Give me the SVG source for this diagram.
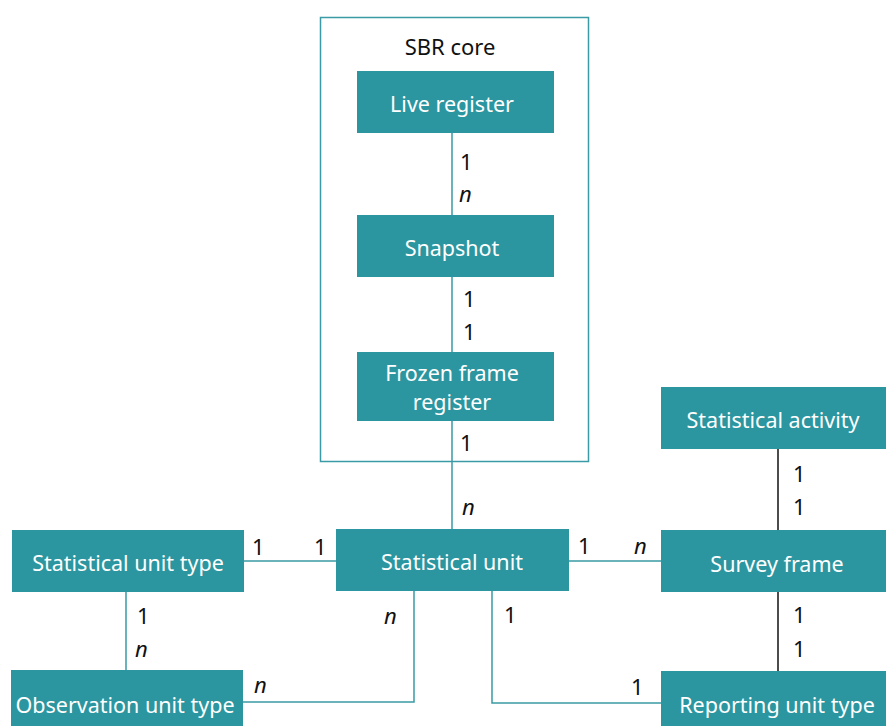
<svg xmlns="http://www.w3.org/2000/svg" width="886" height="726" viewBox="0 0 886 726">
<style>
.box{fill:#2b96a0;}
.lbl{font-family:"Noto Sans","DejaVu Sans",sans-serif;font-size:21.5px;fill:#ffffff;text-anchor:middle;}
.card{font-family:"Noto Sans","DejaVu Sans",sans-serif;font-size:22px;fill:#111111;}
.it{font-style:italic;}
.ln{stroke:#3a9aa5;stroke-width:1.5;fill:none;}
.bk{stroke:#111111;stroke-width:1.5;fill:none;}
</style>
<rect width="886" height="726" fill="#ffffff"/>
<g id="sbr-core">
<rect x="320.5" y="17.5" width="268" height="444" fill="none" stroke="#3a9aa5" stroke-width="1.5"/>
<text x="450" y="55" class="card" font-size="21" text-anchor="middle">SBR core</text>
</g>
<g id="connectors">
<line class="ln" x1="452" y1="133" x2="452" y2="215"/>
<line class="ln" x1="452" y1="277" x2="452" y2="352"/>
<line class="ln" x1="452" y1="421" x2="452" y2="529"/>
<line class="ln" x1="244" y1="561" x2="336" y2="561"/>
<line class="ln" x1="569" y1="561" x2="661" y2="561"/>
<line class="ln" x1="126" y1="592" x2="126" y2="670"/>
<polyline class="ln" points="414,591 414,702 243,702"/>
<polyline class="ln" points="492,591 492,703 661,703"/>
<line class="bk" x1="778" y1="449" x2="778" y2="530"/>
<line class="bk" x1="778" y1="592" x2="778" y2="671"/>
<text class="card" x="460" y="170">1</text>
<text class="card it" x="459" y="202">n</text>
<text class="card" x="463" y="307">1</text>
<text class="card" x="463" y="340">1</text>
<text class="card" x="460" y="451">1</text>
<text class="card it" x="462" y="515">n</text>
<text class="card" x="252" y="555">1</text>
<text class="card" x="314" y="555">1</text>
<text class="card" x="578" y="554">1</text>
<text class="card it" x="634" y="554">n</text>
<text class="card" x="137" y="624">1</text>
<text class="card it" x="135" y="657">n</text>
<text class="card it" x="384" y="624">n</text>
<text class="card it" x="254" y="693">n</text>
<text class="card" x="504" y="623">1</text>
<text class="card" x="631" y="695">1</text>
<text class="card" x="793" y="482">1</text>
<text class="card" x="793" y="515">1</text>
<text class="card" x="793" y="623">1</text>
<text class="card" x="793" y="657">1</text>
</g>
<g id="live-register">
<rect class="box" x="357" y="71" width="197" height="62"/>
<text class="lbl" x="452" y="112">Live register</text>
</g>
<g id="snapshot">
<rect class="box" x="357" y="215" width="197" height="62"/>
<text class="lbl" x="452" y="256">Snapshot</text>
</g>
<g id="frozen-frame-register">
<rect class="box" x="357" y="352" width="197" height="69"/>
<text class="lbl" x="452" y="381" font-size="20.5">Frozen frame</text>
<text class="lbl" x="452" y="410" font-size="20.5">register</text>
</g>
<g id="statistical-unit-type">
<rect class="box" x="12" y="530" width="232" height="62"/>
<text class="lbl" x="128" y="571">Statistical unit type</text>
</g>
<g id="statistical-unit">
<rect class="box" x="336" y="529" width="233" height="62"/>
<text class="lbl" x="452" y="570">Statistical unit</text>
</g>
<g id="observation-unit-type">
<rect class="box" x="11" y="670" width="232" height="56"/>
<text class="lbl" x="125" y="713">Observation unit type</text>
</g>
<g id="statistical-activity">
<rect class="box" x="661" y="387" width="225" height="62"/>
<text class="lbl" x="773" y="428">Statistical activity</text>
</g>
<g id="survey-frame">
<rect class="box" x="661" y="530" width="225" height="62"/>
<text class="lbl" x="777" y="572">Survey frame</text>
</g>
<g id="reporting-unit-type">
<rect class="box" x="661" y="671" width="225" height="55"/>
<text class="lbl" x="777" y="713">Reporting unit type</text>
</g>
</svg>
